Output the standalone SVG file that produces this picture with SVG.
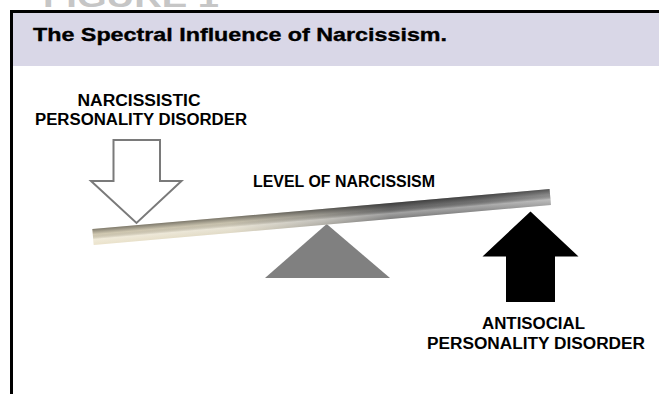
<svg xmlns="http://www.w3.org/2000/svg" width="659" height="394" viewBox="0 0 659 394">
  <style>
    .lbl { font-family: "Liberation Sans", Arial, sans-serif; font-weight: bold; font-size: 16px; fill: #000; text-anchor: middle; }
    .title { font-family: "Liberation Sans Narrow", "Liberation Sans", Arial, sans-serif; font-weight: bold; font-size: 18.5px; fill: #000; stroke: #000; stroke-width: 0.35; }
    .fig { font-family: "Liberation Sans", Arial, sans-serif; font-weight: bold; font-size: 30px; fill: #c6c6c6; }
  </style>
  <defs>
    <linearGradient id="beamColor" x1="0" y1="0" x2="1" y2="0">
      <stop offset="0" stop-color="#e9e0c6"/>
      <stop offset="0.3" stop-color="#ddd6c0"/>
      <stop offset="0.5" stop-color="#a8a59c"/>
      <stop offset="0.65" stop-color="#6e6e6e"/>
      <stop offset="0.85" stop-color="#7c7c7c"/>
      <stop offset="1" stop-color="#9a9a9a"/>
    </linearGradient>
    <linearGradient id="beamShade" x1="0" y1="0" x2="0" y2="1">
      <stop offset="0" stop-color="#000" stop-opacity="0.45"/>
      <stop offset="0.35" stop-color="#000" stop-opacity="0.1"/>
      <stop offset="0.65" stop-color="#fff" stop-opacity="0.35"/>
      <stop offset="1" stop-color="#fff" stop-opacity="0.1"/>
    </linearGradient>
  </defs>

  <rect x="0" y="0" width="659" height="394" fill="#ffffff"/>

  <text class="fig" x="43" y="7" textLength="176" lengthAdjust="spacingAndGlyphs">FIGURE 1</text>

  <g id="frame">
    <rect x="12" y="12" width="647" height="54" fill="#d9d7e7"/>
    <path d="M11.5 394 V11.5 H659" fill="none" stroke="#000" stroke-width="3"/>
  </g>

  <g id="title">
    <text class="title" x="33" y="41" textLength="414" lengthAdjust="spacingAndGlyphs">The Spectral Influence of Narcissism.</text>
  </g>

  <g id="fulcrum">
    <polygon points="326.7,224 390,278 265,278" fill="#808080"/>
  </g>

  <g id="beam">
    <g transform="translate(93,237) rotate(-4.99)">
      <rect x="0" y="-8" width="459" height="16" fill="url(#beamColor)"/>
      <rect x="0" y="-8" width="459" height="16" fill="url(#beamShade)"/>
    </g>
  </g>

  <g id="beam-label">
    <text class="lbl" x="344" y="187" textLength="182" lengthAdjust="spacingAndGlyphs">LEVEL OF NARCISSISM</text>
  </g>

  <g id="narcissistic">
    <text class="lbl" x="139" y="105.5" textLength="123" lengthAdjust="spacingAndGlyphs">NARCISSISTIC</text>
    <text class="lbl" x="141" y="125" textLength="212" lengthAdjust="spacingAndGlyphs">PERSONALITY DISORDER</text>
  </g>

  <g id="antisocial">
    <text class="lbl" x="533.5" y="328.5" textLength="103" lengthAdjust="spacingAndGlyphs">ANTISOCIAL</text>
    <text class="lbl" x="536" y="349" textLength="218" lengthAdjust="spacingAndGlyphs">PERSONALITY DISORDER</text>
  </g>

  <g id="connectors">
    <polygon id="down-arrow" points="113.5,140 160,140 160,181 181.5,181 136.5,223 91,181 113.5,181" fill="#ffffff" stroke="#7a7a7a" stroke-width="2" stroke-linejoin="miter"/>
    <polygon id="up-arrow" points="530.5,211.5 578.5,256.5 555,256.5 555,302 506,302 506,256.5 482.5,256.5" fill="#000000"/>
  </g>
</svg>
